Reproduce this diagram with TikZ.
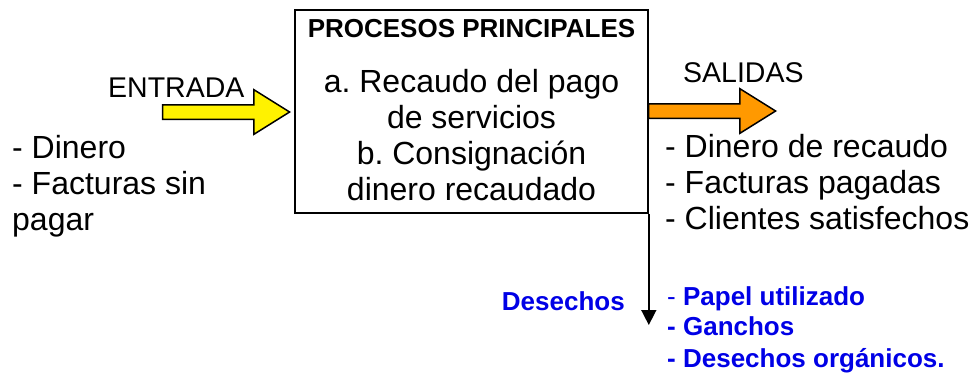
\documentclass[tikz,border=0pt]{standalone}
\usepackage{fontspec}
\setmainfont{Liberation Sans}
\usetikzlibrary{arrows.meta,shapes.arrows}
\definecolor{wasteblue}{RGB}{0,0,230}
\definecolor{outorange}{RGB}{255,153,0}
\tikzstyle{big}=[inner sep=0pt,font=\fontsize{32}{36}\selectfont]
\tikzstyle{label}=[inner sep=0pt,font=\fontsize{28.5}{34}\selectfont]
\tikzstyle{waste}=[inner sep=0pt,text=wasteblue,font=\fontsize{26}{32}\selectfont\bfseries]
\tikzstyle{fat}=[single arrow,draw,line width=1.5pt,minimum height=127pt,inner sep=6.5pt,single arrow head extend=15pt,single arrow tip angle=64,anchor=tip]
\frenchspacing

\begin{document}
\begin{tikzpicture}[x=1pt,y=-1pt]
    \useasboundingbox (0,0) rectangle (972,373);
    % the process box
    \node[draw,line width=1.6pt,minimum width=353pt,minimum height=203pt] (proc) at (471.5,111.5) {};
    \node[inner sep=0pt,anchor=base,font=\fontsize{26}{30}\selectfont\bfseries] (title) at (471.5,37) {PROCESOS PRINCIPALES};
    \foreach \y/\txt in {92/a. Recaudo del pago, 128/de servicios, 164/b. Consignación, 200/dinero recaudado}
        \node[big,anchor=base] (p\y) at (471.5,\y) {\txt};
    % input and output arrows
    \node[fat,fill=yellow] (in) at (291,112) {};
    \node[fat,fill=outorange] (out) at (777,111) {};
    \node[label,anchor=base west] (entrada) at (108,97) {ENTRADA};
    \node[label,anchor=base west] (salidas) at (683,82) {SALIDAS};
    % input list
    \foreach \y/\txt in {158/- Dinero, 194/- Facturas sin, 230/pagar}
        \node[big,anchor=base west] (i\y) at (12,\y) {\txt};
    % output list
    \foreach \y/\txt in {157/- Dinero de recaudo, 193/- Facturas pagadas, 229/- Clientes satisfechos}
        \node[big,anchor=base west] (o\y) at (665,\y) {\txt};
    % waste
    \coordinate (wasteEnd) at (proc.south east |- 0,325);
    \draw[line width=1.5pt,-{Triangle[length=15pt,width=15pt]}] (proc.south east) -- (wasteEnd);
    \node[waste,anchor=base east] (desechos) at (625,310) {Desechos};
    \node[waste,anchor=base west] (w1) at (667,305) {\mdseries-\bfseries\ Papel utilizado};
    \foreach \y/\txt in {335/- Ganchos, 367/- Desechos orgánicos.}
        \node[waste,anchor=base west] (w\y) at (667,\y) {\txt};
\end{tikzpicture}
\end{document}
